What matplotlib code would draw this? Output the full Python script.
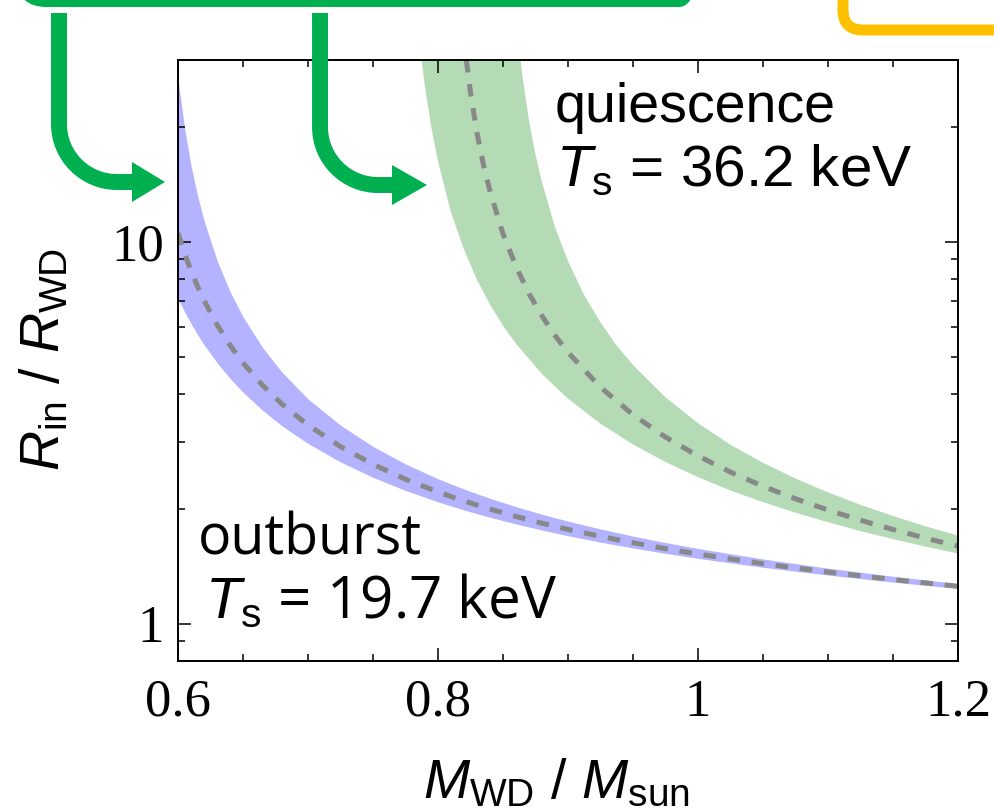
import numpy as np
import matplotlib.pyplot as plt
from matplotlib.patches import FancyBboxPatch, Polygon, PathPatch
from matplotlib.path import Path
from matplotlib.ticker import FixedLocator, MultipleLocator, FuncFormatter, NullFormatter

plt.rcParams['mathtext.fontset'] = 'custom'
plt.rcParams['mathtext.rm'] = 'Liberation Sans'
plt.rcParams['mathtext.it'] = 'Liberation Sans:italic'
plt.rcParams['lines.scale_dashes'] = False

# outburst (Ts = 19.7 keV): Rin/Rwd vs white dwarf mass, best value and range
m_out = [0.600, 0.605, 0.610, 0.615, 0.620, 0.630, 0.640, 0.650, 0.665, 0.680,
         0.700, 0.725, 0.750, 0.775, 0.800, 0.820, 0.840, 0.860, 0.880, 0.900,
         0.925, 0.950, 0.975, 1.000, 1.050, 1.100, 1.150, 1.200]
r_out = [10.56, 9.355, 8.409, 7.653, 7.032, 6.072, 5.365, 4.824, 4.213, 3.760,
         3.312, 2.909, 2.614, 2.389, 2.212, 2.095, 1.995, 1.908, 1.832, 1.765,
         1.692, 1.628, 1.571, 1.521, 1.435, 1.364, 1.304, 1.252]
r_out_hi = [26.83, 19.91, 15.87, 13.25, 11.39, 8.954, 7.421, 6.369, 5.291, 4.558,
            3.881, 3.310, 2.912, 2.620, 2.396, 2.251, 2.129, 2.025, 1.934, 1.855,
            1.770, 1.695, 1.630, 1.573, 1.476, 1.397, 1.330, 1.272]
r_out_lo = [7.110, 6.569, 6.111, 5.721, 5.384, 4.829, 4.392, 4.040, 3.622, 3.298,
            2.964, 2.652, 2.416, 2.232, 2.084, 1.984, 1.899, 1.824, 1.758, 1.699,
            1.634, 1.578, 1.527, 1.482, 1.404, 1.340, 1.284, 1.236]

# quiescence (Ts = 36.2 keV)
m_q = [0.8218, 0.825, 0.830, 0.835, 0.840, 0.850, 0.860, 0.870, 0.880, 0.890,
       0.900, 0.925, 0.950, 0.975, 1.000, 1.025, 1.050, 1.075, 1.100, 1.125,
       1.150, 1.175, 1.200]
r_q = [30.0, 24.64, 19.29, 15.91, 13.59, 10.50, 8.629, 7.324, 6.402, 5.686,
       5.138, 4.162, 3.527, 3.081, 2.750, 2.494, 2.290, 2.123, 1.984, 1.865,
       1.764, 1.674, 1.596]
m_q_hi = [0.8635, 0.865, 0.870, 0.875, 0.880, 0.890, 0.900, 0.912, 0.925, 0.9375,
          0.950, 0.975, 1.000, 1.025, 1.050, 1.075, 1.100, 1.125, 1.150, 1.175,
          1.200]
r_q_hi = [30.0, 27.20, 20.81, 16.94, 14.34, 10.94, 8.920, 7.299, 6.156, 5.348,
          4.760, 3.916, 3.351, 2.940, 2.639, 2.399, 2.207, 2.047, 1.914, 1.798,
          1.700]
m_q_lo = [0.7874, 0.790, 0.795, 0.800, 0.810, 0.820, 0.830, 0.840, 0.850, 0.860,
          0.880, 0.900, 0.925, 0.950, 0.975, 1.000, 1.025, 1.050, 1.075, 1.100,
          1.125, 1.150, 1.175, 1.200]
r_q_lo = [30.0, 25.51, 19.83, 16.29, 11.97, 9.555, 7.957, 6.863, 6.035, 5.413,
          4.507, 3.886, 3.340, 2.947, 2.652, 2.420, 2.232, 2.081, 1.952, 1.843,
          1.747, 1.665, 1.591, 1.526]

xticks = [0.6, 0.8, 1.0, 1.2]
yticks = [1, 10]

blue = '#b3b3ff'
green_fill = '#b4dab6'
green = '#00b050'
gold = '#ffc000'
W, H = 994, 809

fig = plt.figure(figsize=(W / 100, H / 100), dpi=100)
ax = fig.add_axes([178 / W, 1 - 660.5 / H, 780 / W, 600.5 / H])

ax.fill_between(m_out, r_out_lo, r_out_hi, color=blue, lw=0)
ax.fill(np.r_[m_q_hi, m_q_lo[::-1]], np.r_[r_q_hi, r_q_lo[::-1]],
        color=green_fill, lw=0)
ax.plot(m_out, r_out, color='#888888', lw=3.6, dashes=(9, 8.5))
ax.plot(m_q, r_q, color='#888888', lw=3.6, dashes=(9, 8.5))

ax.set_yscale('log')
ax.set_xlim(0.6, 1.2)
ax.set_ylim(0.8, 30)

ax.xaxis.set_major_locator(FixedLocator(xticks))
ax.xaxis.set_minor_locator(MultipleLocator(0.05))
ax.xaxis.set_major_formatter(FuncFormatter(lambda v, p: '%g' % round(v, 2)))
ax.yaxis.set_major_locator(FixedLocator(yticks))
ax.yaxis.set_minor_locator(FixedLocator([0.8, 0.9] + list(range(2, 10)) + [20, 30]))
ax.yaxis.set_major_formatter(FuncFormatter(lambda v, p: '%g' % v))
ax.yaxis.set_minor_formatter(NullFormatter())

ax.tick_params(which='both', direction='in', top=True, right=True, width=1.1,
               labelsize=38, labelfontfamily='Liberation Serif')
ax.tick_params(which='major', length=9.4)
ax.tick_params(which='minor', length=4.7)
ax.tick_params(axis='x', pad=13)
ax.tick_params(axis='y', pad=10)
for s in ax.spines.values():
    s.set_linewidth(1.4)

txt = dict(fontsize=40, family='Liberation Sans', transform=ax.transAxes,
           va='baseline', ha='left')
ax.text(0.483, 0.897, 'quiescence', **txt)
ax.text(0.484, 0.790, r'$T_{\rm s}$ = 36.2 keV', **dict(txt, fontsize=42))
txt['family'] = 'Open Sans'
ax.text(0.026, 0.176, 'outburst', **txt)
ax.text(0.034, 0.070, r'$T_{\rm s}$ = 19.7 keV', **dict(txt, fontsize=42))

fig.text(557 / W, 1 - 798 / H, r'$M_{\rm WD}$ / $M_{\rm sun}$', fontsize=40,
         family='Liberation Sans', ha='center', va='baseline')
fig.text(45 / W, 1 - 359 / H, r'$R_{\rm in}$ / $R_{\rm WD}$', fontsize=40,
         family='Liberation Sans', ha='center', va='center', rotation=90)

# callout boxes and bent arrows, drawn in pixel coordinates
ov = fig.add_axes([0, 0, 1, 1], zorder=5)
ov.set_xlim(0, W)
ov.set_ylim(H, 0)
ov.axis('off')
ov.patch.set_alpha(0)

ov.add_patch(FancyBboxPatch((24, -300), 677, 299,
                            boxstyle='round,pad=0,rounding_size=22',
                            fill=False, ec=green, lw=11.5))
ov.add_patch(FancyBboxPatch((843, -300), 400, 330,
                            boxstyle='round,pad=0,rounding_size=20',
                            fill=False, ec=gold, lw=7.9))


def bent_arrow(x0, y_top, y_mid, r, x_base, x_tip, half):
    k = 0.5523 * r
    verts = [(x0, y_top), (x0, y_mid - r), (x0, y_mid - r + k),
             (x0 + r - k, y_mid), (x0 + r, y_mid), (x_base + 1, y_mid)]
    codes = [Path.MOVETO, Path.LINETO, Path.CURVE4, Path.CURVE4, Path.CURVE4,
             Path.LINETO]
    ov.add_patch(PathPatch(Path(verts, codes), fill=False, ec=green, lw=11.5,
                           capstyle='butt', joinstyle='round'))
    ov.add_patch(Polygon([(x_base, y_mid - half), (x_tip, y_mid),
                          (x_base, y_mid + half)], closed=True, fc=green, ec='none'))


bent_arrow(59, 13, 182, 58, 132, 165, 20)
bent_arrow(320, 13, 185, 58, 392, 427, 20)

fig.savefig('out.png', dpi=100)
plt.close(fig)
